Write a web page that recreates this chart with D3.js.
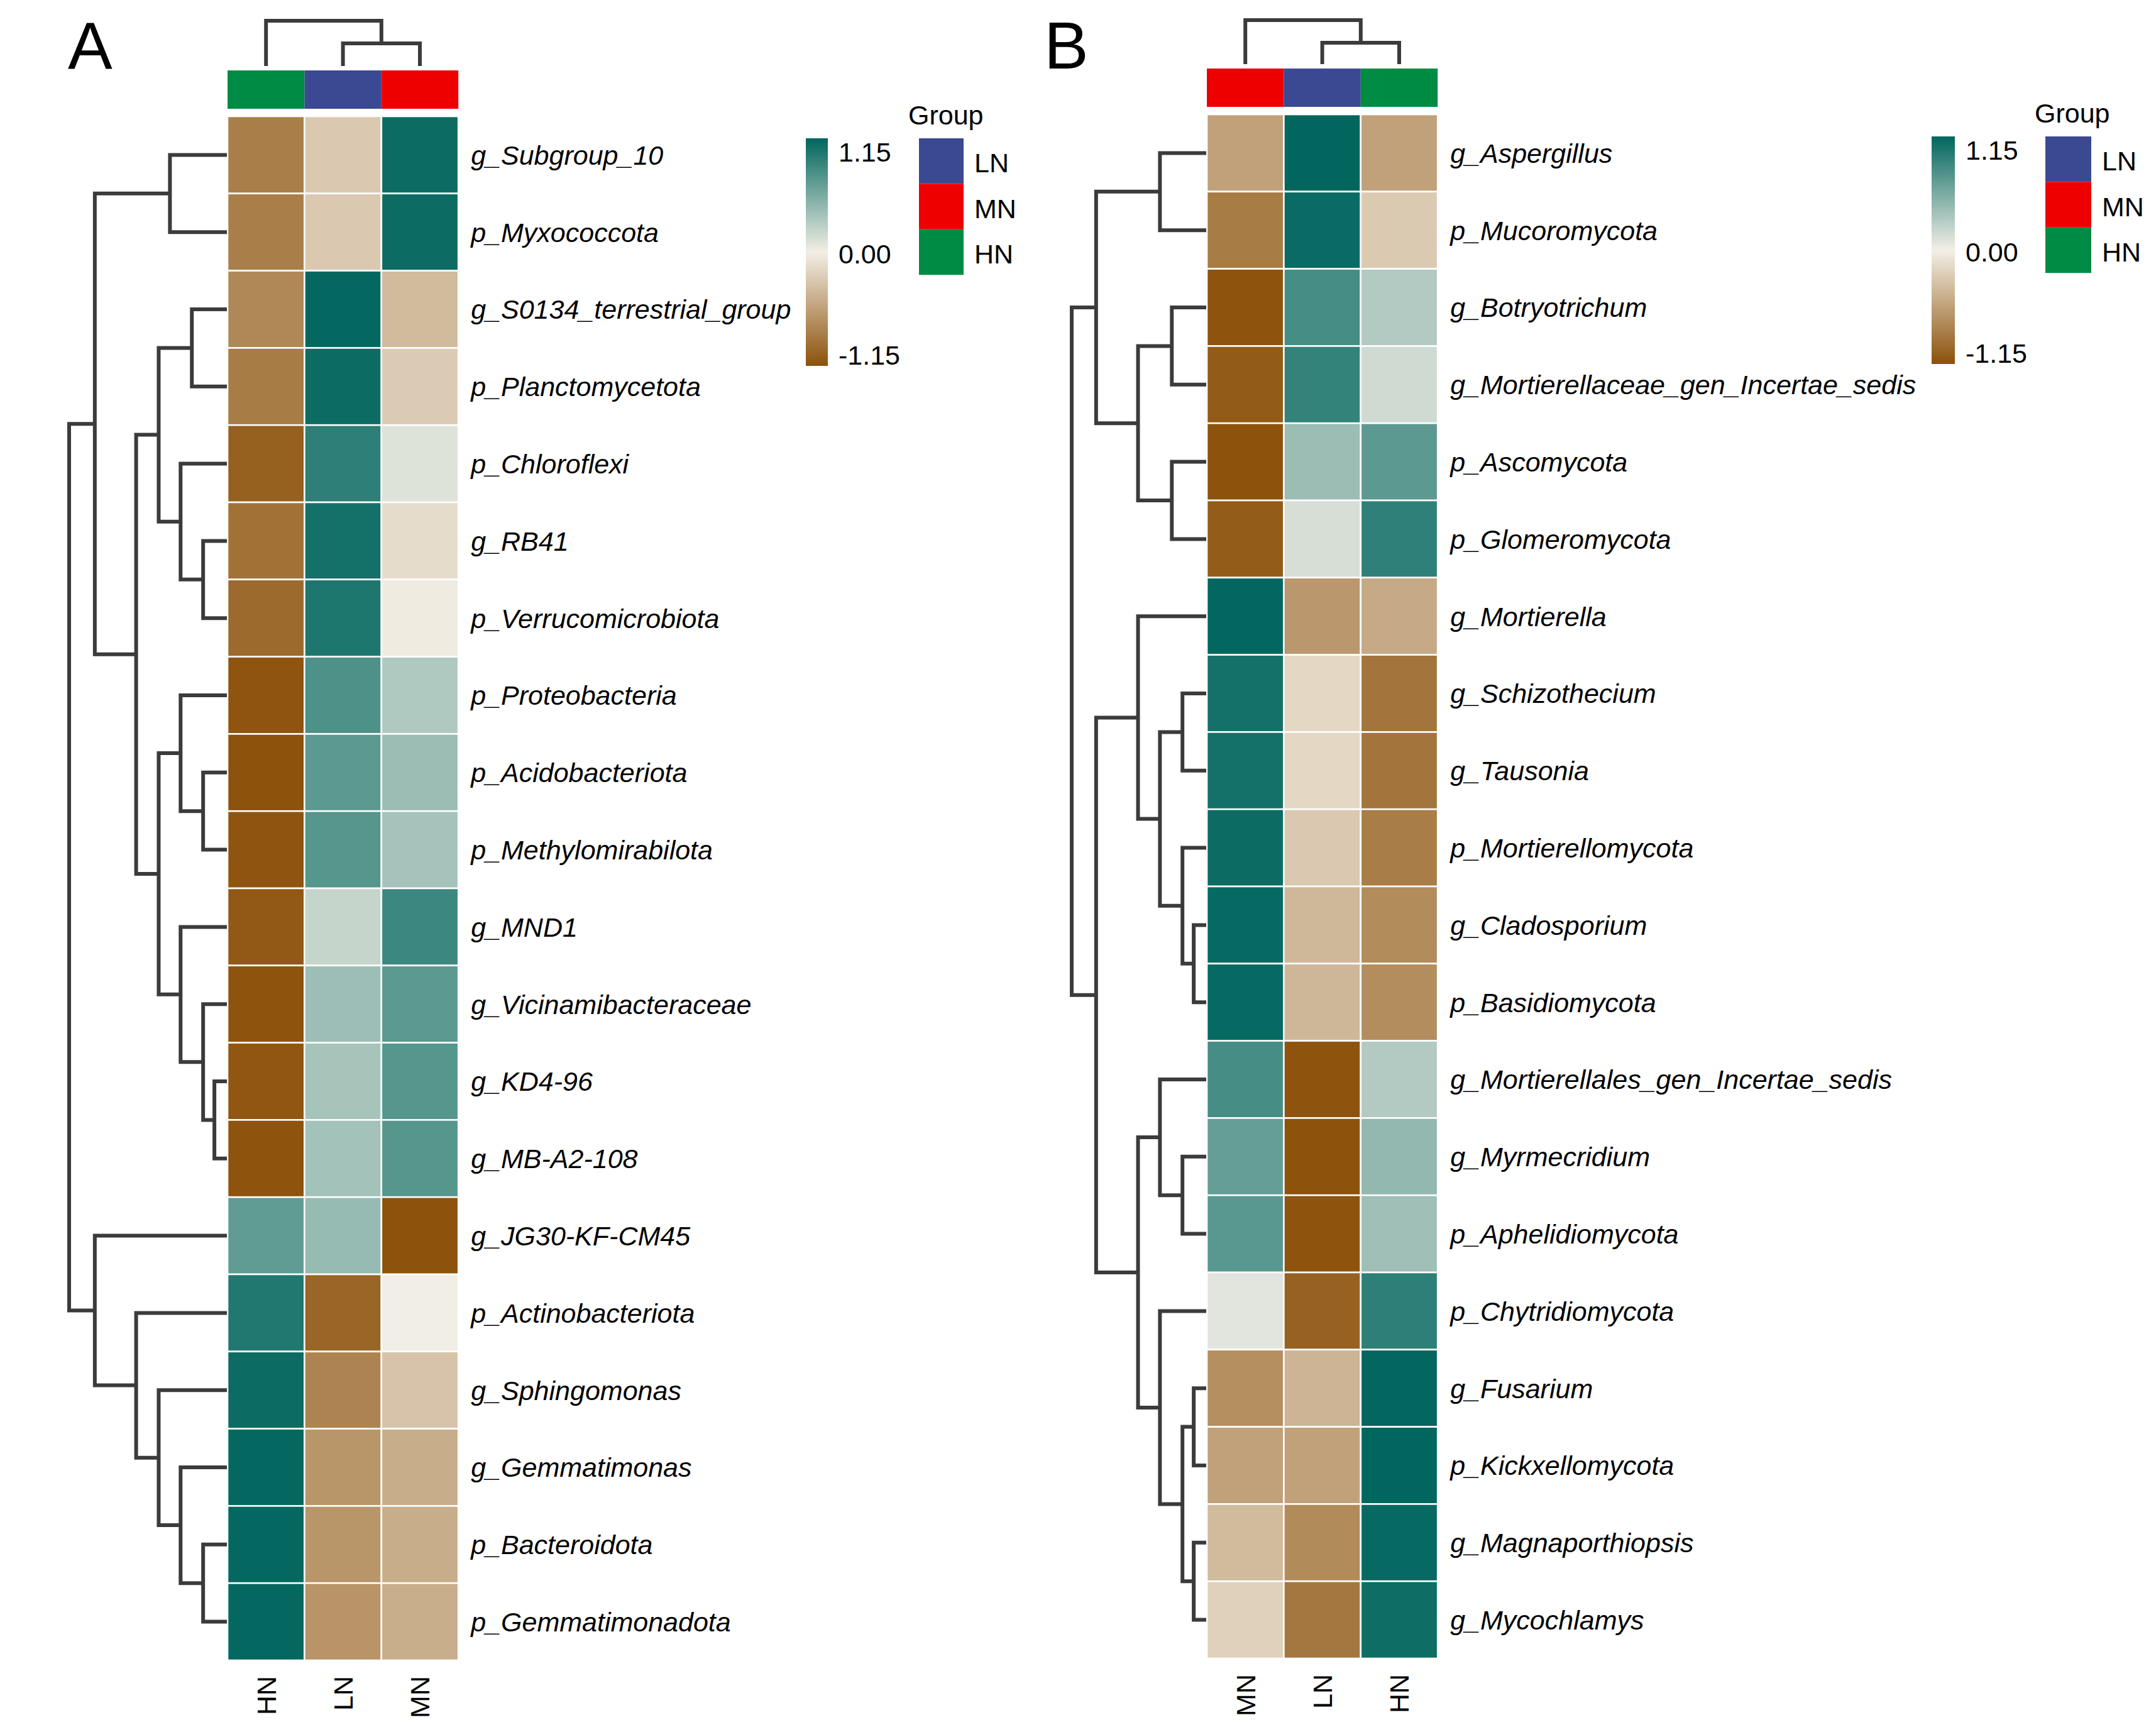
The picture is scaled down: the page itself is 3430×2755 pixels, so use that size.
<!DOCTYPE html>
<html>
<head>
<meta charset="utf-8">
<script src="https://cdn.jsdelivr.net/npm/d3@7/dist/d3.min.js"></script>
<style>
  body { margin: 0; background: #fff; }
  svg { display: block; }
  text { font-family: "Liberation Sans", Arial, Helvetica, sans-serif; fill: #000; }
</style>
</head>
<body>
<div id="chart"></div>
<script>
// ================= DATA =================
// Panel A (bacteria) — row-scaled z-scores
const colsA = ["HN", "LN", "MN"];
const rowsA = ["g_Subgroup_10", "p_Myxococcota", "g_S0134_terrestrial_group", "p_Planctomycetota",
  "p_Chloroflexi", "g_RB41", "p_Verrucomicrobiota", "p_Proteobacteria", "p_Acidobacteriota",
  "p_Methylomirabilota", "g_MND1", "g_Vicinamibacteraceae", "g_KD4-96", "g_MB-A2-108",
  "g_JG30-KF-CM45", "p_Actinobacteriota", "g_Sphingomonas", "g_Gemmatimonas", "p_Bacteroidota",
  "p_Gemmatimonadota"];
const hnA = [-0.82, -0.82, -0.75, -0.84, -1.04, -0.92, -0.97, -1.12, -1.14, -1.12, -1.09, -1.13, -1.11, -1.13, 0.70, 1.00, 1.10, 1.13, 1.13, 1.13];
const lnA = [-0.28, -0.28, 1.13, 1.10, 0.94, 1.06, 1.01, 0.79, 0.72, 0.75, 0.22, 0.41, 0.36, 0.38, 0.44, -1.00, -0.78, -0.65, -0.65, -0.66];
const mnA = [1.10, 1.10, -0.38, -0.26, 0.10, -0.14, -0.03, 0.32, 0.42, 0.37, 0.87, 0.72, 0.75, 0.75, -1.14, 0.01, -0.32, -0.48, -0.48, -0.47];
// row dendrogram A: [mergeHeight, left, right]; leaves are row indices
const treeRowA = [252,
  [211, [91, 0, 1],
        [145, [109, [56, 2, 3], [74, 4, [38, 5, 6]]],
              [109, [74, 7, [38, 8, 9]], [74, 10, [38, 11, [20, 12, 13]]]]]],
  [211, 14, [145, 15, [109, 16, [74, 17, [38, 18, 19]]]]]];
const treeColA = [72, 0, [36, 1, 2]];

// Panel B (fungi)
const colsB = ["MN", "LN", "HN"];
const rowsB = ["g_Aspergillus", "p_Mucoromycota", "g_Botryotrichum", "g_Mortierellaceae_gen_Incertae_sedis",
  "p_Ascomycota", "p_Glomeromycota", "g_Mortierella", "g_Schizothecium", "g_Tausonia",
  "p_Mortierellomycota", "g_Cladosporium", "p_Basidiomycota", "g_Mortierellales_gen_Incertae_sedis",
  "g_Myrmecridium", "p_Aphelidiomycota", "p_Chytridiomycota", "g_Fusarium", "p_Kickxellomycota",
  "g_Magnaporthiopsis", "g_Mycochlamys"];
const mnB = [-0.57, -0.84, -1.13, -1.08, -1.14, -1.07, 1.14, 1.06, 1.06, 1.10, 1.12, 1.12, 0.82, 0.68, 0.73, 0.08, -0.70, -0.57, -0.38, -0.22];
const lnB = [1.15, 1.11, 0.82, 0.91, 0.42, 0.14, -0.64, -0.17, -0.17, -0.28, -0.40, -0.41, -1.13, -1.14, -1.13, -1.03, -0.43, -0.57, -0.73, -0.87];
const hnB = [-0.57, -0.27, 0.31, 0.17, 0.72, 0.93, -0.50, -0.89, -0.89, -0.83, -0.72, -0.71, 0.31, 0.46, 0.40, 0.94, 1.14, 1.15, 1.12, 1.09];
const treeRowB = [215,
  [176, [74, 0, 1], [109, [55, 2, 3], [55, 4, 5]]],
  [176, [109, 6, [74, [38, 7, 8], [38, 9, [20, 10, 11]]]],
        [109, [74, 12, [38, 13, 14]], [74, 15, [38, [20, 16, 17], [20, 18, 19]]]]]];
const treeColB = [70, 0, [34, 1, 2]];

// legend
const groupNames = ["LN", "MN", "HN"];
const groupColors = ["#3B4992", "#EE0000", "#008B45"];
const legendTicks = [1.15, 0.00, -1.15];
const legendTickLabels = ["1.15", "0.00", "-1.15"];
const zMin = -1.15, zMax = 1.15;

// ================= DRAW =================
const W = 3430, H = 2755;
const svg = d3.select("#chart").append("svg").attr("width", W).attr("height", H)
  .attr("viewBox", `0 0 ${W} ${H}`);
svg.append("rect").attr("width", W).attr("height", H).attr("fill", "#fff");

const color = d3.scaleLinear().domain([zMin, 0, zMax])
  .range(["#8C510A", "#F3EFE6", "#01665E"]).interpolate(d3.interpolateRgb).clamp(true);
const groupColor = d3.scaleOrdinal().domain(groupNames).range(groupColors);

const LINE = "#3b3b3b";
const FS = 43;

function layoutTree(node, leafPos) {
  if (typeof node === "number") return { pos: leafPos(node), h: 0, leaf: true };
  const l = layoutTree(node[1], leafPos), r = layoutTree(node[2], leafPos);
  return { pos: (l.pos + r.pos) / 2, h: node[0], l, r };
}
function collect(n, out) { if (!n.leaf) { out.push(n); collect(n.l, out); collect(n.r, out); } return out; }

function drawPanel(p) {
  const g = svg.append("g");
  const x = d3.scaleBand().domain(p.cols).range([p.left, p.left + p.cellW * p.cols.length]);
  const y = d3.scaleBand().domain(p.rows).range([p.top, p.top + p.cellH * p.rows.length]);
  const series = p.cols.map((c, j) => p.vals[j]);

  // cells
  const cells = [];
  p.rows.forEach((r, i) => p.cols.forEach((c, j) => cells.push({ r, c, v: series[j][i] })));
  g.append("g").selectAll("rect").data(cells).join("rect")
    .attr("x", d => x(d.c)).attr("y", d => y(d.r))
    .attr("width", x.bandwidth()).attr("height", y.bandwidth())
    .attr("fill", d => color(d.v))
    .attr("stroke", "#ffffff").attr("stroke-width", 2.6);

  // annotation bar
  g.append("g").selectAll("rect").data(p.cols).join("rect")
    .attr("x", d => x(d)).attr("y", p.barTop)
    .attr("width", x.bandwidth()).attr("height", p.barH)
    .attr("fill", d => groupColor(d));

  // row labels
  g.append("g").selectAll("text").data(p.rows).join("text")
    .attr("x", x.range()[1] + 20)
    .attr("y", d => y(d) + y.bandwidth() / 2)
    .attr("dy", "0.36em")
    .attr("font-size", FS).attr("font-style", "italic")
    .text(d => d);

  // column labels (rotated)
  const labY = y.range()[1] + 25;
  g.append("g").selectAll("text").data(p.cols).join("text")
    .attr("transform", d => `translate(${x(d) + x.bandwidth() / 2},${labY}) rotate(-90)`)
    .attr("text-anchor", "end").attr("dy", "0.36em")
    .attr("font-size", FS)
    .text(d => d);

  // row dendrogram
  const hx = d3.scaleLinear().domain([0, p.treeRow[0]]).range([x.range()[0] - 1, p.rowRootX]);
  const rootR = layoutTree(p.treeRow, i => y(p.rows[i]) + y.bandwidth() / 2);
  const nodesR = collect(rootR, []);
  g.append("g").selectAll("path").data(nodesR).join("path")
    .attr("d", n => `M${hx(n.l.h)},${n.l.pos}H${hx(n.h)}V${n.r.pos}H${hx(n.r.h)}`)
    .attr("fill", "none").attr("stroke", LINE).attr("stroke-width", 6)
    .attr("stroke-linejoin", "miter").attr("stroke-linecap", "butt");

  // column dendrogram
  const vy = d3.scaleLinear().domain([0, p.treeCol[0]]).range([p.colLeafY, p.colRootY]);
  const rootC = layoutTree(p.treeCol, j => x(p.cols[j]) + x.bandwidth() / 2);
  const nodesC = collect(rootC, []);
  g.append("g").selectAll("path").data(nodesC).join("path")
    .attr("d", n => `M${n.l.pos},${vy(n.l.h)}V${vy(n.h)}H${n.r.pos}V${vy(n.r.h)}`)
    .attr("fill", "none").attr("stroke", LINE).attr("stroke-width", 6)
    .attr("stroke-linejoin", "miter").attr("stroke-linecap", "butt");

  // panel letter
  svg.append("text").attr("x", p.letterX).attr("y", 109)
    .attr("font-size", 106).text(p.letter);

  // colour legend
  const gid = "grad" + p.letter;
  const grad = svg.append("defs").append("linearGradient").attr("id", gid)
    .attr("x1", 0).attr("y1", 1).attr("x2", 0).attr("y2", 0);
  d3.range(0, 1.0001, 0.05).forEach(t => {
    grad.append("stop").attr("offset", t).attr("stop-color", color(zMin + t * (zMax - zMin)));
  });
  svg.append("rect").attr("x", p.cbX).attr("y", p.cbY).attr("width", p.cbW).attr("height", p.cbH)
    .attr("fill", `url(#${gid})`);
  const ly = d3.scaleLinear().domain([zMin, zMax]).range([p.cbY + p.cbH - 2, p.cbY + 37]);
  svg.append("g").selectAll("text").data(legendTicks).join("text")
    .attr("x", p.cbX + p.cbW + 17).attr("y", d => ly(d))
    .attr("font-size", FS).text((d, i) => legendTickLabels[i]);

  // group legend
  svg.append("text").attr("x", p.grpX - 17).attr("y", p.cbY - 22)
    .attr("font-size", FS).text("Group");
  const sq = 72.4;
  svg.append("g").selectAll("rect").data(groupNames).join("rect")
    .attr("x", p.grpX).attr("y", (d, i) => p.cbY + i * sq)
    .attr("width", p.grpW).attr("height", sq).attr("fill", d => groupColor(d));
  svg.append("g").selectAll("text").data(groupNames).join("text")
    .attr("x", p.grpX + p.grpW + 17).attr("y", (d, i) => p.cbY + i * sq + sq / 2 + 18)
    .attr("font-size", FS).text(d => d);
}

drawPanel({
  letter: "A", letterX: 108,
  cols: colsA, rows: rowsA, vals: [hnA, lnA, mnA],
  treeRow: treeRowA, treeCol: treeColA,
  left: 362, top: 185, cellW: 122.4, cellH: 122.8,
  barTop: 112, barH: 61, colLeafY: 105, colRootY: 33, rowRootX: 110,
  cbX: 1282, cbY: 220, cbW: 35, cbH: 362, grpX: 1462, grpW: 71
});
drawPanel({
  letter: "B", letterX: 1661,
  cols: colsB, rows: rowsB, vals: [mnB, lnB, hnB],
  treeRow: treeRowB, treeCol: treeColB,
  left: 1920, top: 182, cellW: 122.4, cellH: 122.8,
  barTop: 109, barH: 61, colLeafY: 102, colRootY: 32, rowRootX: 1705,
  cbX: 3073, cbY: 217, cbW: 37, cbH: 362, grpX: 3254, grpW: 73
});
</script>
</body>
</html>
